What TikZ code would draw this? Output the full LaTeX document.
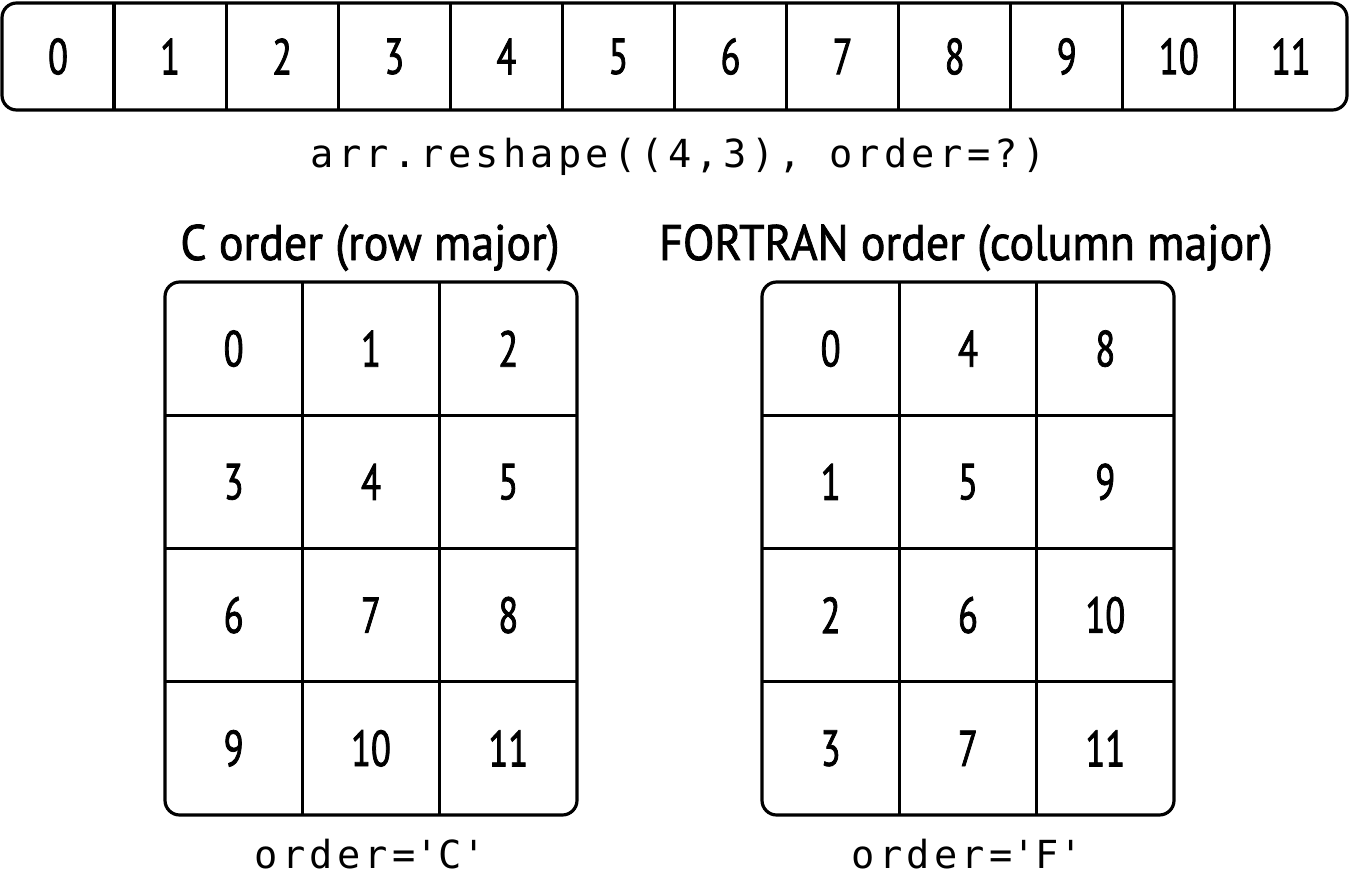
\documentclass[tikz,border=0pt]{standalone}
\usepackage{fontspec}
\setmainfont{PT Sans}[FakeStretch=0.72,FakeBold=1.5]
\newfontfamily\titlefont{PT Sans}[FakeStretch=0.92,FakeBold=1.5]
\newfontfamily\codefont{DejaVu Sans Mono}[LetterSpace=11]
\begin{document}
\begin{tikzpicture}[x=0.75pt,y=-0.75pt,
  num/.style={inner sep=0pt,anchor=center,font=\fontsize{38pt}{40pt}\selectfont},
  ttl/.style={inner sep=0pt,anchor=base,font=\titlefont\fontsize{37.5pt}{40pt}\selectfont},
  code/.style={inner sep=0pt,anchor=base,font=\codefont\fontsize{29pt}{31pt}\selectfont},
  frame/.style={line width=2.4pt,rounded corners=11pt},
  grid/.style={line width=2.4pt}]
\useasboundingbox (0,0) rectangle (1350,881);
% top strip
\foreach \i in {0,...,11}{
  \node[num] (t\i) at ({2+112.08*(\i+0.5)},56.5) {\i};
}
\draw[frame] (2,3) rectangle (1347,110);
\foreach \i in {1,...,11}{
  \draw[grid] ({2+112.08*\i},3) -- ({2+112.08*\i},110);
}
\node[code] (call) at (678,167) {arr.reshape((4,3), order=?)};
% titles
\node[ttl] (ctitle) at (370,260) {C order (row major)};
\node[ttl] (ftitle) at (966,260) {FORTRAN order (column major)};
% grids
\foreach \gx/\nm in {165/c,762/f}{
  \draw[frame] (\gx,282) rectangle ({\gx+412},815);
  \foreach \k in {1,2}{
    \draw[grid] ({\gx+137.33*\k},282) -- ({\gx+137.33*\k},815);
  }
  \foreach \k in {1,2,3}{
    \draw[grid] (\gx,{282+133.25*\k}) -- ({\gx+412},{282+133.25*\k});
  }
}
\foreach \r in {0,...,3}{
  \foreach \c in {0,1,2}{
    \pgfmathtruncatemacro{\cv}{3*\r+\c}
    \pgfmathtruncatemacro{\fv}{\r+4*\c}
    \node[num] (c\r\c) at ({165+137.33*(\c+0.5)},{282+133.25*(\r+0.5)}) {\cv};
    \node[num] (f\r\c) at ({762+137.33*(\c+0.5)},{282+133.25*(\r+0.5)}) {\fv};
  }
}
\node[code] (clab) at (370,868) {order=\textquotesingle C\textquotesingle};
\node[code] (flab) at (967,868) {order=\textquotesingle F\textquotesingle};
\end{tikzpicture}
\end{document}
